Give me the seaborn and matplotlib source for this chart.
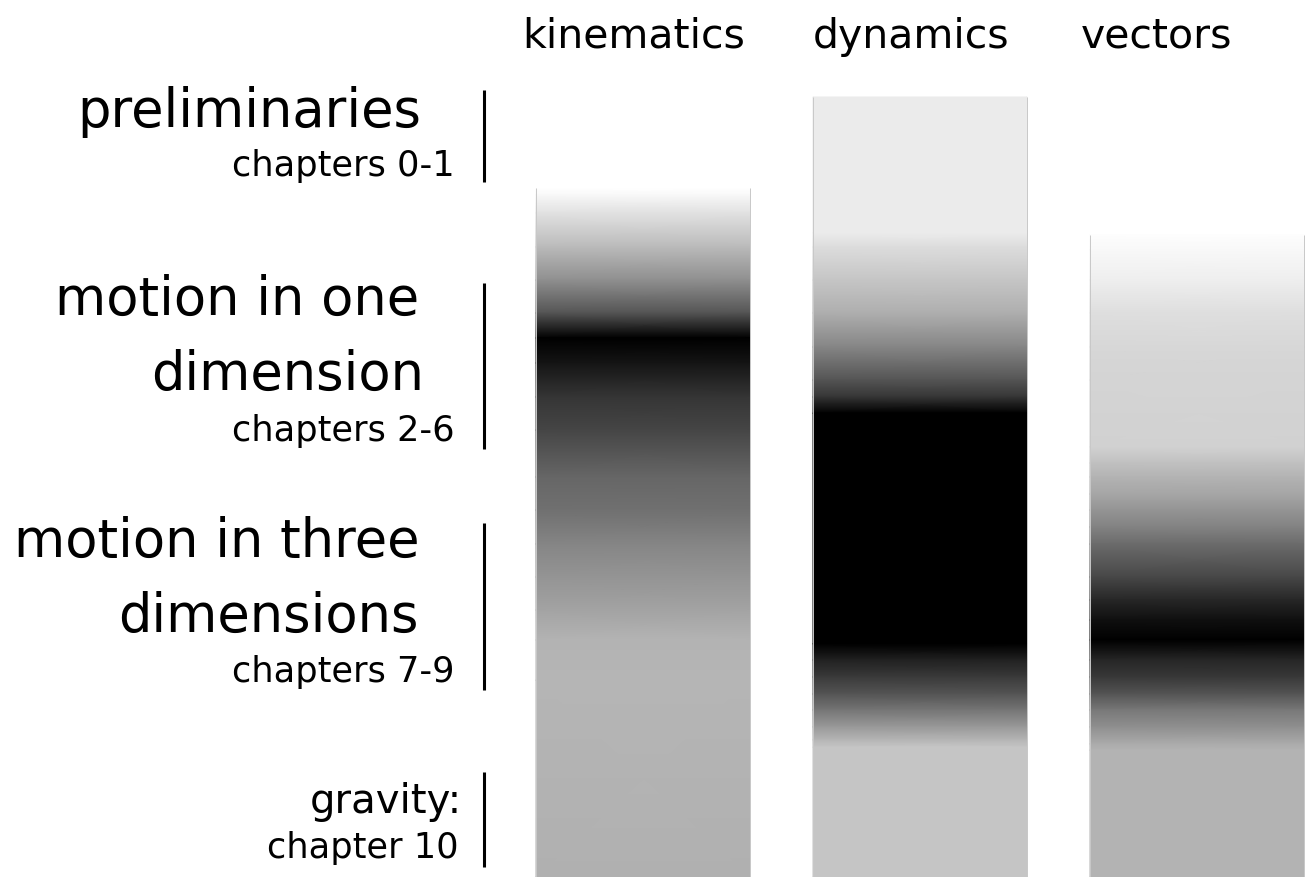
import numpy as np
import seaborn as sns
import matplotlib.pyplot as plt

sns.set_theme(style="white")
plt.rcParams['font.family'] = ['DejaVu Sans']
plt.rcParams['text.color'] = 'black'

# columns and their shading profiles (depth down the page, gray level 0=black 1=white)
topics = ["kinematics", "dynamics", "vectors"]

kinematics_depth = [188, 195, 213, 247, 280, 313, 338, 363, 397, 430, 477, 510, 544, 577, 610, 640, 680, 877]
kinematics_gray = [1.0, 0.97, 0.88, 0.73, 0.56, 0.33, 0.0, 0.08, 0.21, 0.27, 0.40, 0.44, 0.52, 0.58, 0.64, 0.70, 0.71, 0.69]

dynamics_depth = [97, 233, 247, 280, 313, 347, 380, 397, 413, 644, 660, 677, 694, 710, 727, 740, 747, 877]
dynamics_gray = [0.92, 0.92, 0.86, 0.77, 0.68, 0.52, 0.33, 0.21, 0.0, 0.0, 0.13, 0.23, 0.33, 0.46, 0.60, 0.71, 0.77, 0.77]

vectors_depth = [235, 250, 280, 313, 347, 380, 447, 463, 477, 494, 510, 527, 544, 577, 600, 620, 640,
                 660, 677, 694, 710, 727, 744, 750, 877]
vectors_gray = [0.99, 0.97, 0.93, 0.87, 0.84, 0.83, 0.82, 0.75, 0.70, 0.65, 0.58, 0.51, 0.42, 0.28, 0.15, 0.06, 0.0,
                0.15, 0.22, 0.33, 0.47, 0.56, 0.67, 0.70, 0.70]

profiles = [(kinematics_depth, kinematics_gray),
            (dynamics_depth, dynamics_gray),
            (vectors_depth, vectors_gray)]

# section labels on the left: (text, size, right edge, baseline depth)
sections = [
    [("preliminaries", 38, 421, 127), ("chapters 0-1", 25.3, 455, 176)],
    [("motion in one", 38, 419, 315), ("dimension", 38, 424, 390), ("chapters 2-6", 25.3, 455, 441)],
    [("motion in three", 38, 419, 557), ("dimensions", 38, 419, 632), ("chapters 7-9", 25.3, 455, 682)],
    [("gravity:", 29, 462, 813), ("chapter 10", 25.3, 459, 858)],
]
section_spans = [(90, 182), (283, 449), (523, 690), (772, 867)]

W, H = 1315, 877
fig = plt.figure(figsize=(W / 100, H / 100), dpi=100)
ax = fig.add_axes([0, 0, 1, 1])
step = 277.0
ax.set_xlim(-643 / step, (W - 643) / step)
ax.set_ylim(H, 0)
ax.axis("off")

half = 107 / step
for i, (depth, gray) in enumerate(profiles):
    d = np.asarray(depth, dtype=float)
    g = np.asarray(gray, dtype=float)
    X = np.column_stack([np.full_like(d, i - half), np.full_like(d, i + half)])
    Y = np.column_stack([d, d])
    C = np.column_stack([g, g])
    ax.pcolormesh(X, Y, C, shading="gouraud", cmap="gray", vmin=0, vmax=1)
    ax.vlines([i - half, i + half], d[0], d[-1], color="#c8c8c8", lw=0.7)

# headers
header_x = [633.5, 911, 1157]
ytr = ax.get_yaxis_transform()
for name, hx in zip(topics, header_x):
    ax.text(hx / W, 48, name, transform=ytr, ha="center", va="baseline", fontsize=29.5, color="black")

# left labels and brackets
for lines, (y0, y1) in zip(sections, section_spans):
    for text, size, rx, base in lines:
        ax.text(rx / W, base, text, transform=ytr, ha="right", va="baseline", fontsize=size, color="black")
    ax.plot([484 / W, 484 / W], [y0, y1], transform=ytr, color="black", lw=2.2, solid_capstyle="butt")

fig.savefig("out.png", dpi=100, facecolor="white")
